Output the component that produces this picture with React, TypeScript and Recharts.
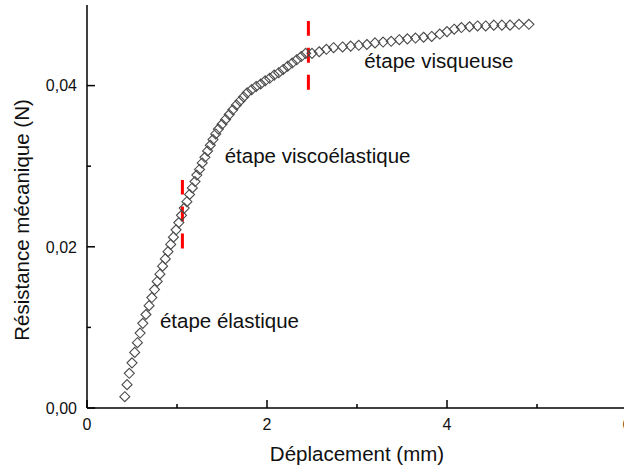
import { ReferenceDot, ReferenceLine, Scatter, ScatterChart, XAxis, YAxis } from "recharts";

// displacement (mm) and mechanical resistance (N)
const displacement = [
  0.42, 0.445, 0.47, 0.5, 0.53, 0.56, 0.59, 0.62, 0.655, 0.69,
  0.72, 0.75, 0.78, 0.81, 0.84, 0.87, 0.9, 0.93, 0.96, 0.99,
  1.02, 1.05, 1.08, 1.11, 1.14, 1.17, 1.2, 1.22, 1.25, 1.28,
  1.31, 1.34, 1.37, 1.4, 1.43, 1.46, 1.5, 1.54, 1.58, 1.62,
  1.66, 1.7, 1.74, 1.78, 1.83, 1.88, 1.93, 1.98, 2.03, 2.08,
  2.13, 2.18, 2.23, 2.28, 2.33, 2.38, 2.43, 2.5, 2.58, 2.66,
  2.74, 2.84, 2.93, 3.02, 3.11, 3.2, 3.29, 3.38, 3.47, 3.56,
  3.65, 3.74, 3.83, 3.92, 4.0, 4.08, 4.16, 4.25, 4.34, 4.43,
  4.52, 4.61, 4.7, 4.8, 4.91,
];
const force = [
  0.0014, 0.0029, 0.0043, 0.0056, 0.0069, 0.0081, 0.0093, 0.0105, 0.0116, 0.0127,
  0.0137, 0.0147, 0.0157, 0.0166, 0.0176, 0.0185, 0.0194, 0.0203, 0.0212, 0.0221,
  0.023, 0.0239, 0.0248, 0.0256, 0.0265, 0.0273, 0.0281, 0.0289, 0.0296, 0.0304,
  0.0311, 0.0319, 0.0326, 0.0333, 0.034, 0.0346, 0.0352, 0.0358, 0.0364, 0.037,
  0.0376, 0.0381, 0.0386, 0.0391, 0.0395, 0.0399, 0.0402, 0.0406, 0.0409, 0.0413,
  0.0416, 0.042, 0.0424, 0.0428, 0.0432, 0.0436, 0.044, 0.044, 0.0442, 0.0445,
  0.0447, 0.0448, 0.0449, 0.045, 0.0451, 0.0453, 0.0454, 0.0455, 0.0457, 0.0458,
  0.0459, 0.046, 0.0461, 0.0464, 0.0467, 0.047, 0.0472, 0.0473, 0.0474, 0.0474,
  0.0475, 0.0475, 0.0475, 0.0476, 0.0476,
];

const xTicks = [0, 1, 2, 3, 4, 5, 6];
const xTickLabels = ["0", "", "2", "", "4", "", "6"];
const yTicks = [0, 0.01, 0.02, 0.03, 0.04];
const yTickLabels = ["0,00", "", "0,02", "", "0,04"];

// red dashed stage boundaries
const boundaryX = [1.06, 2.46];
const boundaryLow = [0.0198, 0.0395];
const boundaryHigh = [0.0283, 0.048];

const stageNames = ["étape élastique", "étape viscoélastique", "étape visqueuse"];
const stageX = [0.81, 1.53, 3.08];
const stageY = [0.0099, 0.0304, 0.0422];

const points = displacement.map((x, i) => ({ x, y: force[i] }));

const FONT = "'Liberation Sans', Arial, sans-serif";

const Diamond = (props: any) => {
  const { cx, cy } = props;
  const r = 5;
  return (
    <path
      d={`M${cx},${cy - r}L${cx + r},${cy}L${cx},${cy + r}L${cx - r},${cy}Z`}
      fill="none"
      stroke="#4a4a4a"
      strokeWidth={1.1}
    />
  );
};

const XTick = (props: any) => {
  const { x, y, payload } = props;
  const label = xTickLabels[xTicks.indexOf(payload.value)];
  const len = label ? 8 : 4;
  return (
    <g>
      <line x1={x} y1={y} x2={x} y2={y - len} stroke="#000" strokeWidth={1.5} />
      {label && (
        <text x={x} y={y + 22} textAnchor="middle" fontSize={16} fontFamily={FONT} fill="#111">
          {label}
        </text>
      )}
    </g>
  );
};

const YTick = (props: any) => {
  const { x, y, payload } = props;
  const label = yTickLabels[yTicks.indexOf(payload.value)];
  const len = label ? 8 : 4;
  return (
    <g>
      <line x1={x} y1={y} x2={x + len} y2={y} stroke="#000" strokeWidth={1.5} />
      {label && (
        <text x={x - 10} y={y} dy="0.36em" textAnchor="end" fontSize={16} fontFamily={FONT} fill="#111">
          {label}
        </text>
      )}
    </g>
  );
};

const stageLabel = (name: string) => (p: any) => (
  <text x={p.viewBox.x} y={p.viewBox.y} fontSize={20.5} fontFamily={FONT} fill="#111">
    {name}
  </text>
);

export default function App() {
  return (
    <div style={{ position: "absolute", left: 0, top: 0, width: 624, height: 473, overflow: "hidden", background: "#fff" }}>
      <ScatterChart width={700} height={473} margin={{ top: 5, right: 73, bottom: 0, left: 0 }}>
        <XAxis
          type="number"
          dataKey="x"
          domain={[0, 6]}
          ticks={xTicks}
          interval={0}
          tick={<XTick />}
          tickLine={false}
          tickSize={0}
          tickMargin={0}
          height={65}
          axisLine={{ stroke: "#000", strokeWidth: 1.5 }}
          label={(p: any) => (
            <text
              x={p.viewBox.x + p.viewBox.width / 2}
              y={461}
              textAnchor="middle"
              fontSize={20.5}
              fontFamily={FONT}
              fill="#111"
            >
              Déplacement (mm)
            </text>
          )}
        />
        <XAxis
          xAxisId="top"
          orientation="top"
          type="number"
          domain={[0, 6]}
          tick={false}
          tickLine={false}
          height={0}
          axisLine={{ stroke: "#000", strokeWidth: 1.5 }}
        />
        <YAxis
          type="number"
          dataKey="y"
          domain={[0, 0.05]}
          ticks={yTicks}
          interval={0}
          tick={<YTick />}
          tickLine={false}
          tickSize={0}
          tickMargin={0}
          width={87}
          axisLine={{ stroke: "#000", strokeWidth: 1.5 }}
          label={(p: any) => (
            <text
              x={29}
              y={220}
              transform="rotate(-90 29 220)"
              textAnchor="middle"
              fontSize={20.5}
              fontFamily={FONT}
              fill="#111"
            >
              Résistance mécanique (N)
            </text>
          )}
        />
        <Scatter data={points} shape={<Diamond />} isAnimationActive={false} />
        {boundaryX.map((bx, i) => (
          <ReferenceLine
            key={"b" + i}
            segment={[
              { x: bx, y: boundaryLow[i] },
              { x: bx, y: boundaryHigh[i] },
            ]}
            stroke="#ff0000"
            strokeWidth={3}
            strokeDasharray="15 12"
          />
        ))}
        {stageNames.map((name, i) => (
          <ReferenceDot
            key={"s" + i}
            x={stageX[i]}
            y={stageY[i]}
            r={0}
            fill="none"
            stroke="none"
            label={stageLabel(name)}
          />
        ))}
      </ScatterChart>
    </div>
  );
}
